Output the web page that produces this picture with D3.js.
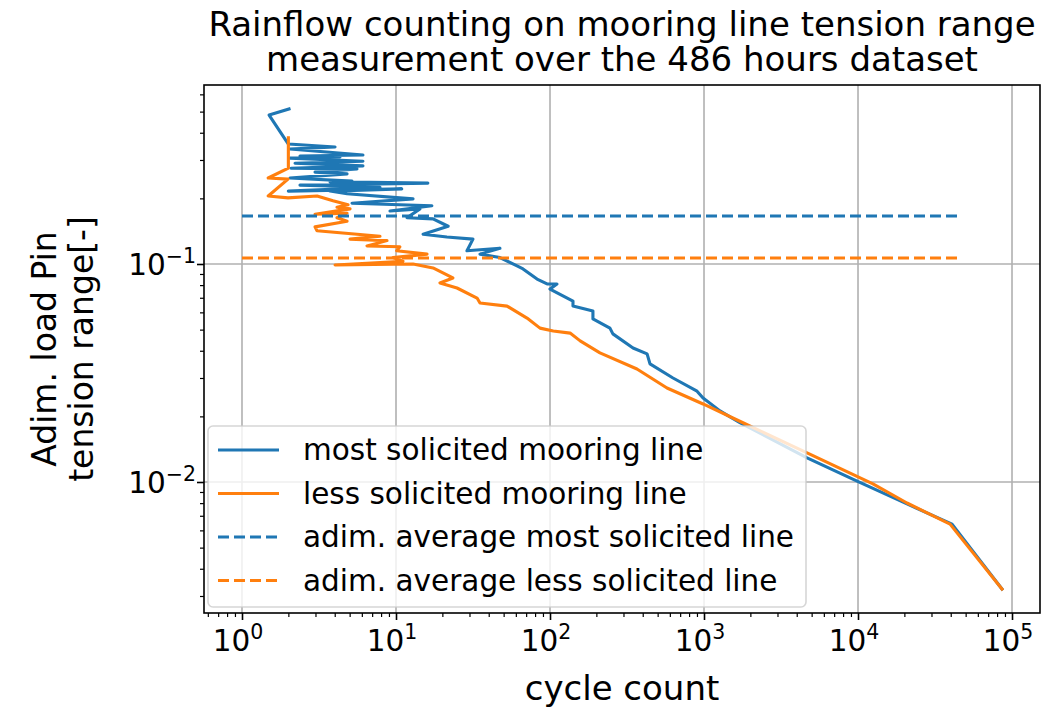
<!DOCTYPE html>
<html><head><meta charset="utf-8">
<script src="https://cdn.jsdelivr.net/npm/d3@7"></script>
<style>body{margin:0;background:#fff} text{font-family:"DejaVu Sans",sans-serif;fill:#000}</style>
</head><body><svg id="c" width="1059" height="712"></svg>
<script>
// ---- data ----
const titleLines = ["Rainflow counting on mooring line tension range", "measurement over the 486 hours dataset"];
const xLabel = "cycle count";
const yLabelLines = ["Adim. load Pin", "tension range[-]"];
const xTickExps = [0, 1, 2, 3, 4, 5];
const yTickExps = [-2, -1];
const legendLabels = ["most solicited mooring line", "less solicited mooring line", "adim. average most solicited line", "adim. average less solicited line"];

const mostCount = [2.02,1.50,2.0,4.02,2.05,6.1,2.38,4.33,2.05,6.1,2.21,6.1,2.08,5.58,2.98,4.81,2.05,5.18,3.73,16.1,2.38,7.87,2.0,10.9,3.73,4.81,12.9,5.18,17.1,9.14,14.3,11.8,17.4,21.8,15.0,21.4,31.6,28.9,47.3,35.1,47.3,61.1,66.8,82.4,95.7,111,100,141,141,190,190,245,256,346,427,446,629,901,986,1270,1710,4670,9860,20800,40800,86100];
const mostRange = [0.514,0.482,0.355,0.344,0.337,0.316,0.313,0.310,0.306,0.296,0.290,0.282,0.275,0.273,0.264,0.259,0.248,0.240,0.238,0.235,0.230,0.225,0.216,0.221,0.216,0.210,0.199,0.190,0.185,0.175,0.179,0.163,0.161,0.149,0.137,0.133,0.130,0.115,0.118,0.111,0.107,0.098,0.0949,0.0853,0.0810,0.0810,0.0767,0.0676,0.0641,0.0608,0.0560,0.0508,0.0478,0.0412,0.0387,0.0348,0.0300,0.0261,0.0243,0.0212,0.0187,0.0129,0.0101,0.00793,0.00641,0.00323];

const lessCount = [2.0,2.0,1.48,1.99,1.48,1.99,3.07,3.90,4.88,4.14,5.03,2.98,4.81,4.14,4.81,2.98,3.07,7.87,5.03,8.74,6.48,10.6,10.1,15.9,9.56,11.1,4.02,12.9,17.4,23.4,19.3,24.9,33.6,35.1,52.6,70.9,86.1,105,135,157,211,367,575,986,1790,4670,12500,20800,39600,86100];
const lessRange = [0.379,0.275,0.248,0.245,0.205,0.201,0.205,0.195,0.187,0.182,0.179,0.169,0.171,0.163,0.157,0.148,0.142,0.134,0.130,0.128,0.121,0.120,0.115,0.111,0.107,0.103,0.0990,0.100,0.0959,0.0863,0.0818,0.0776,0.0698,0.0662,0.0641,0.0565,0.0508,0.0493,0.0482,0.0444,0.0391,0.0330,0.0270,0.0228,0.0187,0.0136,0.00980,0.00801,0.00641,0.00323];

const avgCount = [1, 45900];
const avgMost = 0.166;
const avgLess = 0.1066;

// ---- layout ----
const M = {left: 204, top: 85, right: 1040, bottom: 613};
const C_BLUE = "#1f77b4", C_ORANGE = "#ff7f0e";
const svg = d3.select("#c");

function padDomain(arr) {
  const e = d3.extent(arr.map(Math.log10));
  const p = (e[1] - e[0]) * 0.05;
  return [Math.pow(10, e[0] - p), Math.pow(10, e[1] + p)];
}
const x = d3.scaleLog().domain(padDomain(mostCount.concat(lessCount, avgCount))).range([M.left, M.right]);
const y = d3.scaleLog().domain(padDomain(mostRange.concat(lessRange, [avgMost, avgLess]))).range([M.bottom, M.top]);

function minors(dom) {
  const out = [];
  for (let e = -4; e <= 6; e++) for (let m = 2; m <= 9; m++) {
    const v = m * Math.pow(10, e);
    if (v >= dom[0] && v <= dom[1]) out.push(v);
  }
  return out;
}
const xMajor = xTickExps.map(e => Math.pow(10, e));
const yMajor = yTickExps.map(e => Math.pow(10, e));

// grid
const grid = svg.append("g");
grid.selectAll(".gx").data(xMajor).join("line")
  .attr("x1", d => x(d)).attr("x2", d => x(d)).attr("y1", M.top).attr("y2", M.bottom)
  .attr("stroke", "#b0b0b0").attr("stroke-width", 1.6);
grid.selectAll(".gy").data(yMajor).join("line")
  .attr("y1", d => y(d)).attr("y2", d => y(d)).attr("x1", M.left).attr("x2", M.right)
  .attr("stroke", "#b0b0b0").attr("stroke-width", 1.6);

// clip
svg.append("clipPath").attr("id", "clip").append("rect")
  .attr("x", M.left).attr("y", M.top).attr("width", M.right - M.left).attr("height", M.bottom - M.top);
const plot = svg.append("g").attr("clip-path", "url(#clip)");

const line = d3.line().x(d => x(d[0])).y(d => y(d[1]));
const series = [
  {pts: d3.zip(mostCount, mostRange), color: C_BLUE, dash: null},
  {pts: d3.zip(lessCount, lessRange), color: C_ORANGE, dash: null},
  {pts: avgCount.map(c => [c, avgMost]), color: C_BLUE, dash: "11,5"},
  {pts: avgCount.map(c => [c, avgLess]), color: C_ORANGE, dash: "11,5"}
];
series.forEach(s => {
  plot.append("path").attr("d", line(s.pts)).attr("fill", "none")
    .attr("stroke", s.color).attr("stroke-width", 3.1)
    .attr("stroke-linejoin", "round").attr("stroke-linecap", s.dash ? "butt" : "square")
    .attr("stroke-dasharray", s.dash);
});

// legend
const lg = svg.append("g");
lg.append("rect").attr("x", 208).attr("y", 426).attr("width", 598).attr("height", 181)
  .attr("rx", 5).attr("fill", "#fff").attr("fill-opacity", 0.8)
  .attr("stroke", "#cccccc").attr("stroke-opacity", 0.8).attr("stroke-width", 1.6);
legendLabels.forEach((lab, i) => {
  const yy = 450 + i * 43.5;
  const s = series[i];
  lg.append("line").attr("x1", 218).attr("x2", 279).attr("y1", yy).attr("y2", yy)
    .attr("stroke", s.color).attr("stroke-width", 3.1).attr("stroke-dasharray", s.dash);
  lg.append("text").attr("x", 303).attr("y", yy + 10).attr("font-size", 29.5).text(lab);
});

// axes ticks (d3 axes)
const axB = svg.append("g").attr("transform", `translate(0,${M.bottom})`);
axB.call(d3.axisBottom(x).tickValues(xMajor).tickSize(7).tickSizeOuter(0).tickFormat(""));
const axBm = svg.append("g").attr("transform", `translate(0,${M.bottom})`);
axBm.call(d3.axisBottom(x).tickValues(minors(x.domain())).tickSize(4).tickSizeOuter(0).tickFormat(""));
const axL = svg.append("g").attr("transform", `translate(${M.left},0)`);
axL.call(d3.axisLeft(y).tickValues(yMajor).tickSize(7).tickSizeOuter(0).tickFormat(""));
const axLm = svg.append("g").attr("transform", `translate(${M.left},0)`);
axLm.call(d3.axisLeft(y).tickValues(minors(y.domain())).tickSize(4).tickSizeOuter(0).tickFormat(""));
[axB, axL].forEach(g => g.selectAll(".tick line").attr("stroke", "#000").attr("stroke-width", 1.6));
[axBm, axLm].forEach(g => g.selectAll(".tick line").attr("stroke", "#000").attr("stroke-width", 1.2));
[axB, axBm, axL, axLm].forEach(g => g.select(".domain").remove());

// spines
svg.append("rect").attr("x", M.left).attr("y", M.top).attr("width", M.right - M.left).attr("height", M.bottom - M.top)
  .attr("fill", "none").attr("stroke", "#000").attr("stroke-width", 1.6);

// tick labels
function pow10Label(g, e, xx, yy, anchor) {
  const t = g.append("text").attr("x", xx).attr("y", yy).attr("font-size", 29.5).attr("text-anchor", anchor);
  t.append("tspan").text("10");
  t.append("tspan").attr("font-size", 20.5).attr("dy", -12).text(e < 0 ? "\u2212" + (-e) : String(e));
  return t;
}
const lbl = svg.append("g");
xTickExps.forEach(e => pow10Label(lbl, e, x(Math.pow(10, e)) - 4, 651, "middle"));
yTickExps.forEach(e => pow10Label(lbl, e, 196, y(Math.pow(10, e)) + 11, "end"));

// titles
titleLines.forEach((t, i) => svg.append("text").attr("x", (M.left + M.right) / 2).attr("y", 36 + i * 35)
  .attr("text-anchor", "middle").attr("font-size", 34).text(t));
svg.append("text").attr("x", (M.left + M.right) / 2).attr("y", 700).attr("text-anchor", "middle")
  .attr("font-size", 34).text(xLabel);
yLabelLines.forEach((t, i) => svg.append("text")
  .attr("transform", `translate(${56 + i * 37},${(M.top + M.bottom) / 2}) rotate(-90)`)
  .attr("text-anchor", "middle").attr("font-size", 33).text(t));
</script></body></html>
